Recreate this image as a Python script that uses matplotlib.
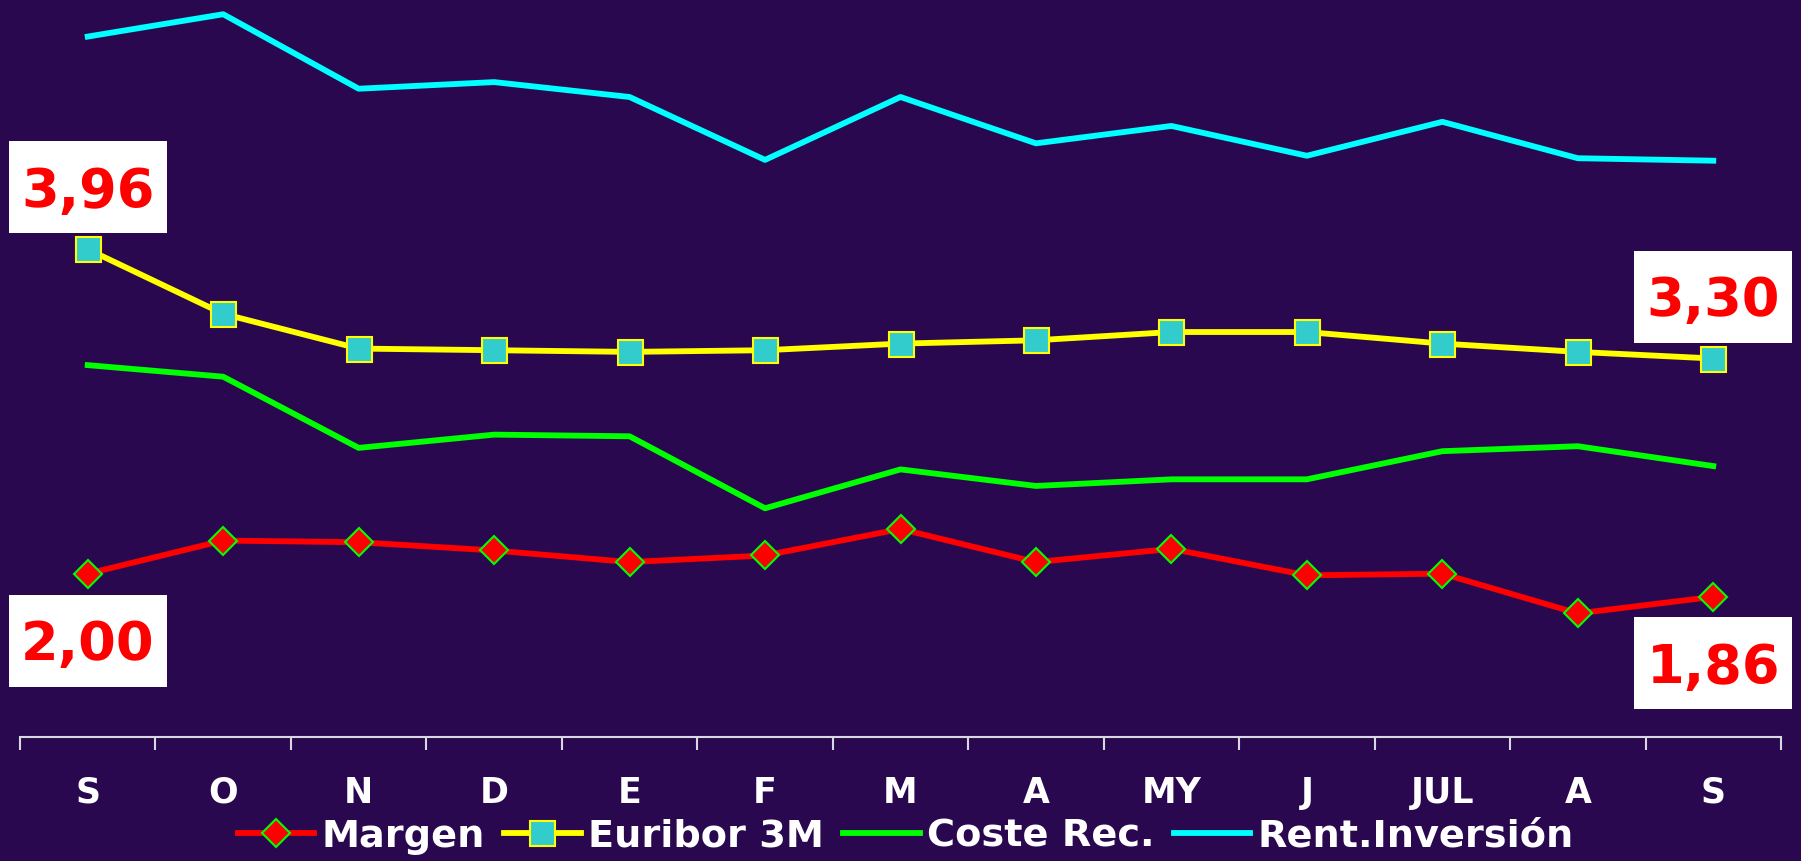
import matplotlib
matplotlib.use("Agg")
import matplotlib.pyplot as plt
from matplotlib.offsetbox import DrawingArea, AnnotationBbox
from matplotlib.patches import Rectangle
from matplotlib.text import Text
import numpy as np

months = ["S", "O", "N", "D", "E", "F", "M", "A", "MY", "J", "JUL", "A", "S"]
margen = [2.00, 2.20, 2.19, 2.14, 2.07, 2.11, 2.27, 2.07, 2.15, 1.99, 2.00, 1.76, 1.86]
euribor = [3.96, 3.57, 3.36, 3.35, 3.34, 3.35, 3.39, 3.41, 3.46, 3.46, 3.39, 3.34, 3.30]
coste = [3.26, 3.19, 2.76, 2.84, 2.83, 2.395, 2.63, 2.53, 2.57, 2.57, 2.74, 2.77, 2.65]
rent = [5.245, 5.38, 4.93, 4.97, 4.88, 4.50, 4.88, 4.60, 4.705, 4.525, 4.73, 4.51, 4.495]

labels_text = ["3,96", "2,00", "3,30", "1,86"]

BG = "#2a0850"
W, H = 1801, 861
fig = plt.figure(figsize=(W / 100, H / 100), dpi=100, facecolor=BG)
ax = fig.add_axes([20 / W, (H - 736.7) / H, 1761 / W, 736.7 / H])
ax.set_facecolor(BG)

x = np.arange(len(months))
ax.plot(x, margen, color="#ff0000", lw=4.2, marker="D", ms=14, mfc="#ff0000",
        mec="#00ff00", mew=1.5, label="Margen", zorder=5)
ax.plot(x, euribor, color="#ffff00", lw=4.2, marker="s", ms=18, mfc="#33cccc",
        mec="#ffff00", mew=1.5, label="Euribor 3M", zorder=5)
ax.plot(x, coste, color="#00ff00", lw=4.2, label="Coste Rec.", zorder=4)
ax.plot(x, rent, color="#00ffff", lw=4.2, label="Rent.Inversión", zorder=4)

ax.set_xlim(-0.5, len(months) - 0.5)
ax.set_ylim(1.015, 5.466)

for s in ["left", "right", "top"]:
    ax.spines[s].set_visible(False)
ax.spines["bottom"].set_color("#d8d8e0")
ax.spines["bottom"].set_linewidth(1.5)
ax.set_yticks([])
ax.set_xticks(x)
ax.set_xticklabels(months, color="white", fontsize=25, fontweight="bold")
ax.tick_params(axis="x", which="major", length=0, pad=28)
ax.set_xticks(np.arange(-0.5, len(months), 1.0), minor=True)
ax.tick_params(axis="x", which="minor", length=9, width=1.5, color="#d8d8e0", direction="out")

# value boxes (fixed size, in points at 100 dpi)
bw, bh = 158 * 0.72, 92 * 0.72
fs = 39
ann = [(0, euribor[0], labels_text[0], 62),
       (0, margen[0], labels_text[1], -67),
       (len(months) - 1, euribor[-1], labels_text[2], 62),
       (len(months) - 1, margen[-1], labels_text[3], -66)]
for xi, yi, t, dy in ann:
    da = DrawingArea(bw, bh, 0, 0, clip=False)
    da.add_artist(Rectangle((0, 0), bw, bh, fc="white", ec="none"))
    da.add_artist(Text(bw / 2, bh / 2 - 0.729 * fs / 2, t, ha="center", va="baseline",
                       color="#ff0000", fontsize=fs, fontweight="bold"))
    ab = AnnotationBbox(da, (xi, yi), xybox=(0, dy), boxcoords="offset pixels",
                        frameon=False, pad=0, box_alignment=(0.5, 0.5),
                        annotation_clip=False, zorder=10)
    ax.add_artist(ab)

leg = fig.legend(loc="center", bbox_to_anchor=(0.503, 1 - 836.7 / H), ncol=4,
                 frameon=False, prop={"weight": "bold", "size": 27.5},
                 handlelength=2.0, handletextpad=0.2, columnspacing=0.5,
                 numpoints=1, borderpad=0)
for t in leg.get_texts():
    t.set_color("white")

fig.savefig("out.png", dpi=100, facecolor=BG)
